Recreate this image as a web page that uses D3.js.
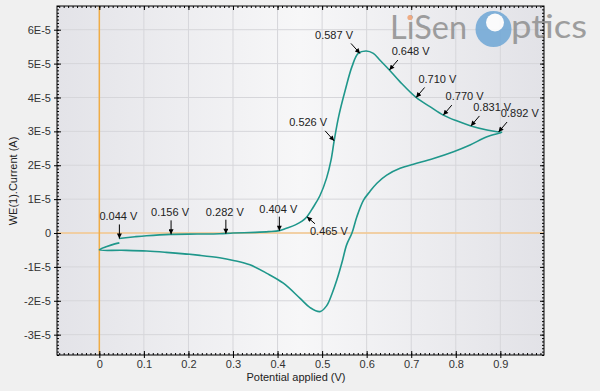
<!DOCTYPE html>
<html>
<head>
<meta charset="utf-8">
<script src="https://cdn.jsdelivr.net/npm/d3@7"></script>
<style>
  html, body { margin: 0; padding: 0; background: #f0f0f0; }
  svg { display: block; font-family: "Liberation Sans", Arial, sans-serif; }
</style>
</head>
<body>
<svg width="600" height="391"></svg>
<script>
// cyclic voltammogram, potential in V, current in units of 1E-5 A
const potential = [0.044, 0.08, 0.106, 0.16, 0.22, 0.27, 0.30, 0.35, 0.38, 0.404, 0.42, 0.44, 0.455, 0.466, 0.48, 0.495,
  0.51, 0.52, 0.527, 0.537, 0.552, 0.567, 0.581, 0.599, 0.615, 0.63, 0.651, 0.675, 0.711, 0.742, 0.772, 0.802, 0.834,
  0.87, 0.896, 0.903,
  0.87, 0.832, 0.795, 0.75, 0.705, 0.675, 0.645, 0.623, 0.607, 0.593, 0.578, 0.567, 0.555, 0.545, 0.533, 0.522, 0.51,
  0.495, 0.473, 0.45, 0.413, 0.376, 0.338, 0.301, 0.27, 0.226, 0.15, 0.106, 0.05, 0.0,
  0.017, 0.035, 0.045];
const current = [-0.16, -0.11, -0.08, -0.04, -0.03, -0.02, 0.0, 0.02, 0.04, 0.07, 0.14, 0.24, 0.35, 0.48, 0.76, 1.10,
  1.62, 2.15, 2.72, 3.43, 4.22, 4.91, 5.30, 5.37, 5.30, 5.10, 4.81, 4.46, 4.00, 3.73, 3.48, 3.31, 3.16,
  3.04, 2.98, 2.97,
  2.84, 2.60, 2.40, 2.20, 2.03, 1.91, 1.71, 1.47, 1.22, 0.97, 0.48, 0.0, -0.35, -0.85, -1.39, -1.80, -2.15,
  -2.32, -2.20, -1.92, -1.48, -1.19, -0.94, -0.81, -0.73, -0.66, -0.57, -0.53, -0.51, -0.50,
  -0.40, -0.32, -0.29];

// markers along the forward scan
const markLabels = ["0.044 V", "0.156 V", "0.282 V", "0.404 V", "0.465 V", "0.526 V", "0.587 V", "0.648 V", "0.710 V", "0.770 V", "0.831 V", "0.892 V"];
const markPotential = [0.045, 0.161, 0.284, 0.404, 0.466, 0.527, 0.585, 0.651, 0.711, 0.772, 0.834, 0.896];
const markCurrent = [-0.16, -0.04, -0.02, 0.07, 0.48, 2.72, 5.30, 4.81, 4.00, 3.48, 3.16, 2.98];

const xTicks = [0, 0.1, 0.2, 0.3, 0.4, 0.5, 0.6, 0.7, 0.8, 0.9];
const yTicks = [-3, -2, -1, 0, 1, 2, 3, 4, 5, 6];

const xTitle = "Potential applied (V)";
const yTitle = "WE(1).Current (A)";

// where each marker label sits relative to its arrow
const placement = ["down", "down", "down", "down", "downRight", "upLeft", "upLeft", "upRight", "upRight", "upRight", "upRight", "upRight"];
const place = {
  down:      { ax: 0,  ay: -14, tx: -20, ty: -18, anchor: "start" },
  downRight: { ax: 8,  ay: 7,   tx: 3,   ty: 18,  anchor: "start" },
  upLeft:    { ax: -9, ay: -10, tx: -7,  ty: -14.5, anchor: "end" },
  upRight:   { ax: 8.5, ay: -10, tx: 2.3, ty: -14.7, anchor: "start" }
};

const E5 = 1e-5;
const plotL = 57, plotR = 544, plotT = 6, plotB = 355;

const svg = d3.select("svg");

let x = d3.scaleLinear().domain([-0.095, 0.998]).range([plotL, plotR]);
let y = d3.scaleLinear().domain([-3.6 * E5, 6.7 * E5]).range([plotB, plotT]);

let defs = svg.append("defs");
let grad = defs.append("linearGradient").attr("id", "bg").attr("x1", 0).attr("x2", 1).attr("y1", 0).attr("y2", 0);
grad.append("stop").attr("offset", "0%").attr("stop-color", "#e3e3e8");
grad.append("stop").attr("offset", "50%").attr("stop-color", "#f7f7f8");
grad.append("stop").attr("offset", "100%").attr("stop-color", "#e2e2e7");

defs.append("marker")
  .attr("id", "arrow")
  .attr("viewBox", "0 0 10 10")
  .attr("refX", 10).attr("refY", 5)
  .attr("markerWidth", 6).attr("markerHeight", 5)
  .attr("markerUnits", "userSpaceOnUse")
  .attr("orient", "auto")
  .append("path")
  .attr("d", "M0,0 L10,5 L0,10 z")
  .attr("fill", "#000");

svg.append("rect")
  .attr("x", plotL).attr("y", plotT)
  .attr("width", plotR - plotL).attr("height", plotB - plotT)
  .attr("fill", "url(#bg)");

// grid
let grid = svg.append("g");
grid.selectAll(".gx").data(xTicks).enter().append("line")
  .attr("x1", d => x(d)).attr("x2", d => x(d))
  .attr("y1", plotT).attr("y2", plotB)
  .attr("stroke", "#d6d6da").attr("stroke-width", 1);
grid.selectAll(".gy").data(yTicks).enter().append("line")
  .attr("x1", plotL).attr("x2", plotR)
  .attr("y1", d => y(d * E5)).attr("y2", d => y(d * E5))
  .attr("stroke", "#d6d6da").attr("stroke-width", 1);

// zero lines
svg.append("line")
  .attr("x1", plotL).attr("x2", plotR)
  .attr("y1", y(0)).attr("y2", y(0))
  .attr("stroke", "#f6c98e").attr("stroke-width", 1.5);
svg.append("line")
  .attr("x1", x(0)).attr("x2", x(0))
  .attr("y1", plotT).attr("y2", plotB)
  .attr("stroke", "#f0ac45").attr("stroke-width", 1.5);

// tick helpers
let xMinor = d3.range(-9, 100).map(k => k / 100).filter(v => v >= -0.095 && v <= 0.998);
let yMinor = d3.range(-36, 68).map(k => k / 10 * E5);

function ticks(axis, tx, ty) {
  let g = svg.append("g").attr("transform", `translate(${tx},${ty})`).call(axis);
  g.select(".domain").remove();
  g.selectAll("line").attr("stroke", "#000");
  return g;
}

ticks(d3.axisBottom(x).tickValues(xMinor).tickSize(-2).tickFormat(""), 0, plotB);
ticks(d3.axisTop(x).tickValues(xMinor).tickSize(-2).tickFormat(""), 0, plotT);
ticks(d3.axisLeft(y).tickValues(yMinor).tickSize(-2).tickFormat(""), plotL, 0);
ticks(d3.axisRight(y).tickValues(yMinor).tickSize(-2).tickFormat(""), plotR, 0);

ticks(d3.axisBottom(x).tickValues(xTicks).tickSize(-4).tickFormat(""), 0, plotB);
ticks(d3.axisTop(x).tickValues(xTicks).tickSize(-4).tickFormat(""), 0, plotT);
ticks(d3.axisLeft(y).tickValues(yTicks.map(d => d * E5)).tickSize(-4).tickFormat(""), plotL, 0);
ticks(d3.axisRight(y).tickValues(yTicks.map(d => d * E5)).tickSize(-4).tickFormat(""), plotR, 0);

let xAxis = ticks(
  d3.axisBottom(x).tickValues(xTicks).tickSize(3).tickPadding(2)
    .tickFormat(d => d === 0 ? "0" : d3.format(".1f")(d)),
  0, plotB);
let yAxis = ticks(
  d3.axisLeft(y).tickValues(yTicks.map(d => d * E5)).tickSize(3).tickPadding(3)
    .tickFormat(d => Math.abs(d) < 1e-12 ? "0" : Math.round(d / E5) + "E-5"),
  plotL, 0);
[xAxis, yAxis].forEach(g => g.selectAll("text")
  .attr("font-family", "Liberation Sans, Arial, sans-serif")
  .attr("font-size", 11).attr("fill", "#333"));

// frame
svg.append("rect")
  .attr("x", plotL).attr("y", plotT)
  .attr("width", plotR - plotL).attr("height", plotB - plotT)
  .attr("fill", "none").attr("stroke", "#000").attr("stroke-width", 1);

// curve
let pts = potential.map((v, i) => [v, current[i] * E5]);
let line = d3.line()
  .x(d => x(d[0]))
  .y(d => y(d[1]))
  .curve(d3.curveCatmullRom.alpha(0.5));

svg.append("path")
  .datum(pts)
  .attr("d", line)
  .attr("fill", "none")
  .attr("stroke", "#1f978b")
  .attr("stroke-width", 1.6);

// markers
let marks = svg.append("g");
markLabels.forEach((label, i) => {
  let p = place[placement[i]];
  let px = x(markPotential[i]), py = y(markCurrent[i] * E5);
  marks.append("line")
    .attr("x1", px + p.ax).attr("y1", py + p.ay)
    .attr("x2", px).attr("y2", py)
    .attr("stroke", "#000").attr("stroke-width", 1)
    .attr("marker-end", "url(#arrow)");
  marks.append("text")
    .attr("x", px + p.tx).attr("y", py + p.ty)
    .attr("text-anchor", p.anchor)
    .attr("font-size", 11).attr("fill", "#222")
    .text(label);
});

// axis titles
svg.append("text")
  .attr("x", 296).attr("y", 381)
  .attr("text-anchor", "middle")
  .attr("font-size", 11).attr("fill", "#222")
  .text(xTitle);
svg.append("text")
  .attr("transform", "translate(16.5,181) rotate(-90)")
  .attr("text-anchor", "middle")
  .attr("font-size", 11).attr("fill", "#222")
  .text(yTitle);

// watermark logo
let logo = svg.append("g").attr("opacity", 0.85);
logo.append("text")
  .attr("x", 390).attr("y", 39)
  .attr("font-family", "Lato, 'Open Sans', sans-serif")
  .attr("font-size", 32).attr("fill", "#8f8f8f")
  .attr("textLength", 77).attr("lengthAdjust", "spacingAndGlyphs")
  .text("LiSen");
logo.append("circle").attr("cx", 410).attr("cy", 17.5).attr("r", 2.6).attr("fill", "#f0a070");
logo.append("circle").attr("cx", 493.5).attr("cy", 29).attr("r", 18).attr("fill", "#6fa7d6");
logo.append("circle").attr("cx", 495).attr("cy", 22.5).attr("r", 9).attr("fill", "#ffffff");
logo.append("text")
  .attr("x", 511).attr("y", 38)
  .attr("font-family", "Lato, 'Open Sans', sans-serif")
  .attr("font-size", 32).attr("fill", "#8f8f8f")
  .attr("textLength", 76).attr("lengthAdjust", "spacingAndGlyphs")
  .text("ptics");
</script>
</body>
</html>
